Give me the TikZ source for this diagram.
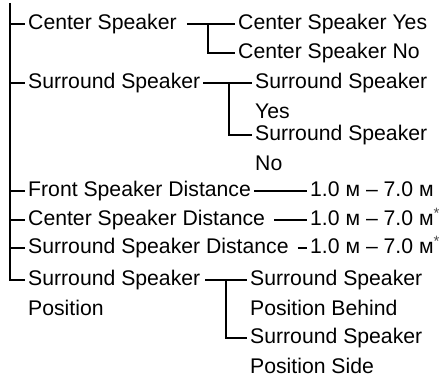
\documentclass[tikz,border=0pt]{standalone}
\usepackage{fontspec}
\setmainfont{Liberation Sans}
\tikzset{
  lbl/.style={font=\fontsize{21.2}{29.5}\selectfont, inner sep=3pt, text height=15pt, text depth=4.5pt, anchor=west},
  twoline/.style={font=\fontsize{21.2}{29.5}\selectfont, inner sep=3pt, align=left, anchor=north west},
  conn/.style={line width=1.6pt}
}
\newcommand{\myast}{\raisebox{7pt}{\fontsize{15}{15}\selectfont\color{black!70}*}}
\begin{document}
\begin{tikzpicture}[x=1pt,y=-1pt]
\useasboundingbox (0,0) rectangle (442,377);
% main items
\node[lbl] (cs) at (25,24) {Center Speaker};
\node[lbl] (ss) at (25,83) {Surround Speaker};
\node[lbl] (fsd) at (25,191) {Front Speaker Distance};
\node[lbl] (csd) at (25,220) {Center Speaker Distance};
\node[lbl] (ssd) at (25,248) {Surround Speaker Distance};
\node[twoline] (ssp) at (25,267.25) {Surround Speaker\\Position};
% sub items
\node[lbl] (csy) at (235,24) {Center Speaker Yes};
\node[lbl] (csn) at (235,53) {Center Speaker No};
\node[twoline] (ssy) at (252,70.25) {Surround Speaker\\Yes};
\node[twoline] (ssn) at (252,122.25) {Surround Speaker\\No};
\node[lbl] (r1) at (307,191) {1.0 м – 7.0 м};
\node[lbl] (r2) at (307,220) {1.0 м – 7.0 м\myast};
\node[lbl] (r3) at (307,248) {1.0 м – 7.0 м\myast};
\node[twoline] (sspb) at (247,267.25) {Surround Speaker\\Position Behind};
\node[twoline] (ssps) at (247,325.25) {Surround Speaker\\Position Side};
% attach points for two-line nodes
\coordinate (ssp1) at ([yshift=-12.75pt]ssp.north west);
\coordinate (ssp1e) at ([yshift=-12.75pt,xshift=2pt]ssp.north east);
\coordinate (ssy1) at ([yshift=-12.75pt]ssy.north west);
\coordinate (ssn1) at ([yshift=-12.75pt]ssn.north west);
\coordinate (sspb1) at ([yshift=-12.75pt]sspb.north west);
\coordinate (ssps1) at ([yshift=-12.75pt]ssps.north west);
\coordinate (trunk) at (10,3);
\coordinate (csb) at (208,0);
\coordinate (ssb) at (229,0);
\coordinate (sspbr) at (226,0);
% trunk
\draw[conn] (trunk) |- (ssp1);
\foreach \n in {cs,ss,fsd,csd,ssd} \draw[conn] (trunk |- \n.west) -- (\n.west);
% center speaker branch
\draw[conn] ([xshift=7pt]cs.east) -- (csy.west);
\draw[conn] (csb |- cs.west) |- (csn.west);
% surround speaker branch
\draw[conn] (ss.east) -- (ssy1);
\draw[conn] (ssb |- ss.east) |- (ssn1);
% distances
\draw[conn] (fsd.east) -- (r1.west);
\draw[conn] ([xshift=6pt]csd.east) -- (r2.west);
\draw[conn] ([xshift=6pt]ssd.east) -- (r3.west);
% position branch
\draw[conn] (ssp1e) -- (sspb1);
\draw[conn] (sspbr |- ssp1e) |- (ssps1);
\end{tikzpicture}
\end{document}
